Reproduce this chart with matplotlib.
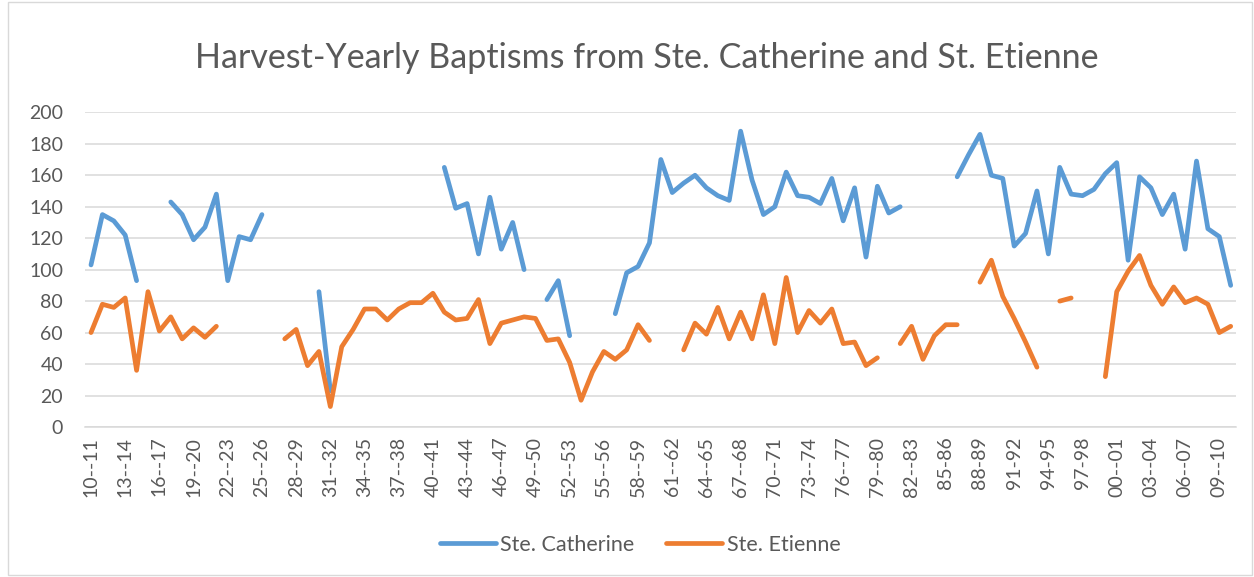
import numpy as np
import matplotlib
matplotlib.use("Agg")
import matplotlib.pyplot as plt
from matplotlib.patches import Rectangle
from matplotlib.lines import Line2D

plt.rcParams['font.family'] = ['Lato', 'DejaVu Sans']

N = np.nan

# Harvest years 1710-11 .. 1810-11
start_years = list(range(1710, 1811))
single_dash = set(range(1785, 1800))
categories = [
    f"{y % 100:02d}{'-' if y in single_dash else '--'}{(y + 1) % 100:02d}"
    for y in start_years
]

ste_catherine = [
    103, 135, 131, 122, 93, N, N, 143, 135, 119,
    127, 148, 93, 121, 119, 135, N, N, N, N,
    86, 23, N, N, N, N, N, N, N, N,
    N, 165, 139, 142, 110, 146, 113, 130, 100, N,
    81, 93, 58, N, N, N, 72, 98, 102, 117,
    170, 149, 155, 160, 152, 147, 144, 188, 157, 135,
    140, 162, 147, 146, 142, 158, 131, 152, 108, 153,
    136, 140, N, N, N, N, 159, 173, 186, 160,
    158, 115, 123, 150, 110, 165, 148, 147, 151, 161,
    168, 106, 159, 152, 135, 148, 113, 169, 126, 121,
    90,
]

st_etienne = [
    60, 78, 76, 82, 36, 86, 61, 70, 56, 63,
    57, 64, N, N, N, N, N, 56, 62, 39,
    48, 13, 51, 62, 75, 75, 68, 75, 79, 79,
    85, 73, 68, 69, 81, 53, 66, 68, 70, 69,
    55, 56, 41, 17, 35, 48, 43, 49, 65, 55,
    N, N, 49, 66, 59, 76, 56, 73, 56, 84,
    53, 95, 60, 74, 66, 75, 53, 54, 39, 44,
    N, 53, 64, 43, 58, 65, 65, N, 92, 106,
    83, 69, 54, 38, N, 80, 82, N, N, 32,
    86, 99, 109, 90, 78, 89, 79, 82, 78, 60,
    64,
]

legend_labels = ["Ste. Catherine", "Ste. Etienne"]
title = "Harvest-Yearly Baptisms from Ste. Catherine and St. Etienne"
yticks = list(range(0, 201, 20))

BLUE = "#5B9BD5"
ORANGE = "#ED7D31"
GRID = "#D9D9D9"
TXT = "#595959"
LW = 3.4

W, H = 1254, 577
fig = plt.figure(figsize=(W / 100, H / 100), dpi=100)
fig.patch.set_facecolor("white")

# outer chart border
fig.patches.append(Rectangle((8 / W, 2 / H), (W - 10) / W, (H - 4) / H,
                             transform=fig.transFigure, fill=False,
                             edgecolor=GRID, linewidth=1.0))

ax = fig.add_axes([85.3 / W, 150 / H, 1151.1 / W, 314.7 / H])
x = np.arange(len(categories))
ax.plot(x, np.array(ste_catherine, dtype=float), color=BLUE, lw=LW,
        solid_capstyle='round', solid_joinstyle='round', zorder=3)
ax.plot(x, np.array(st_etienne, dtype=float), color=ORANGE, lw=LW,
        solid_capstyle='round', solid_joinstyle='round', zorder=3)

ax.set_xlim(-0.5, len(categories) - 0.5)
ax.set_ylim(0, 200)
ax.set_yticks(yticks)
ax.set_yticklabels([str(v) for v in yticks])
ax.set_xticks(x[::3])
ax.set_xticklabels(categories[::3], rotation=90)
ax.grid(axis='y', color=GRID, lw=1.1, zorder=0)
ax.set_axisbelow(True)
for s in ["top", "right", "left"]:
    ax.spines[s].set_visible(False)
ax.spines["bottom"].set_color(GRID)
ax.spines["bottom"].set_linewidth(1.1)
ax.tick_params(axis='both', length=0, colors=TXT, labelsize=14)
ax.tick_params(axis='y', pad=16)
ax.tick_params(axis='x', pad=7)

fig.text(646.5 / W, 1 - 58 / H, title, ha='center', va='center',
         fontsize=24.5, color=TXT, fontweight='normal')

handles = [Line2D([0], [0], color=BLUE, lw=LW, solid_capstyle='round'),
           Line2D([0], [0], color=ORANGE, lw=LW, solid_capstyle='round')]
fig.legend(handles, legend_labels, loc='center', bbox_to_anchor=(640 / W, 1 - 545 / H),
           ncol=2, frameon=False, fontsize=15.5, labelcolor=TXT,
           handlelength=2.6, handletextpad=0.2, columnspacing=1.5)

fig.savefig("out.png", dpi=100)
